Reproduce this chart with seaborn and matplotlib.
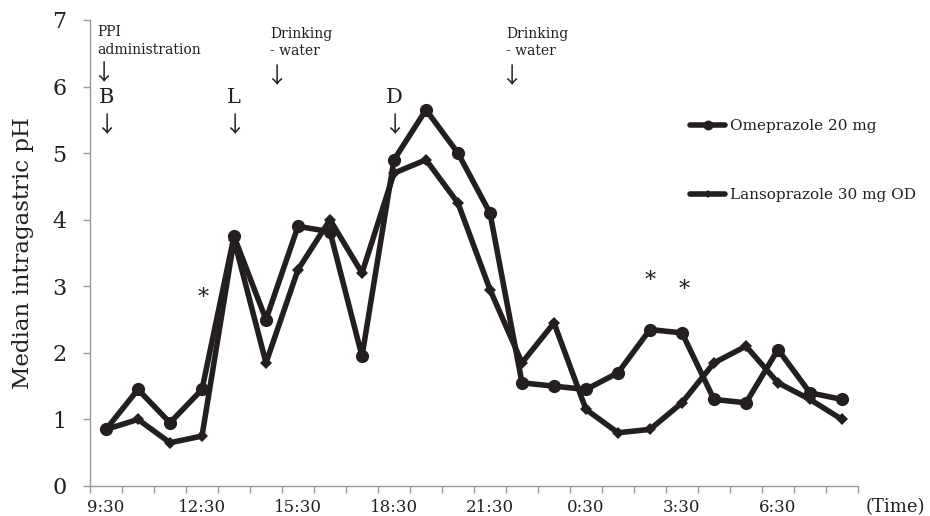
import matplotlib
matplotlib.use("Agg")
import matplotlib.pyplot as plt
import seaborn as sns
import pandas as pd
import numpy as np

times = ["9:30", "10:30", "11:30", "12:30", "13:30", "14:30", "15:30", "16:30",
         "17:30", "18:30", "19:30", "20:30", "21:30", "22:30", "23:30", "0:30",
         "1:30", "2:30", "3:30", "4:30", "5:30", "6:30", "7:30", "8:30"]
omeprazole = [0.85, 1.45, 0.95, 1.45, 3.75, 2.5, 3.9, 3.82, 1.95, 4.9, 5.65, 5.0,
              4.1, 1.55, 1.5, 1.45, 1.7, 2.35, 2.3, 1.3, 1.25, 2.05, 1.4, 1.3]
lansoprazole = [0.85, 1.0, 0.65, 0.75, 3.7, 1.85, 3.25, 4.0, 3.2, 4.7, 4.9, 4.25,
                2.95, 1.85, 2.45, 1.15, 0.8, 0.85, 1.25, 1.85, 2.1, 1.55, 1.3, 1.0]
tick_labels = ["9:30", "12:30", "15:30", "18:30", "21:30", "0:30", "3:30", "6:30"]
series_names = ["Omeprazole 20 mg", "Lansoprazole 30 mg OD"]
star_pos = [(3.03, 2.82), (17.0, 3.08), (18.06, 2.95)]
meal_labels = [(0, "B"), (4, "L"), (9, "D")]

INK = "#231f20"
sns.set_theme(style="white")
plt.rcParams["font.family"] = ["DejaVu Serif", "DejaVu Sans"]
plt.rcParams["text.color"] = INK
plt.rcParams["xtick.labelcolor"] = INK
plt.rcParams["ytick.labelcolor"] = INK
plt.rcParams["axes.labelcolor"] = INK

fig = plt.figure(figsize=(9.3, 5.16), dpi=100)
ax = fig.add_axes([90 / 930, 30 / 516, 768 / 930, 466 / 516])

idx = np.arange(len(times))
df = pd.DataFrame({"t": np.concatenate([idx, idx]),
                   "pH": omeprazole + lansoprazole,
                   "drug": [series_names[0]] * len(idx) + [series_names[1]] * len(idx)})

sns.lineplot(data=df[df.drug == series_names[0]], x="t", y="pH", ax=ax,
             color=INK, lw=4.0, marker="o", markersize=9.5,
             markeredgewidth=0, label=series_names[0])
sns.lineplot(data=df[df.drug == series_names[1]], x="t", y="pH", ax=ax,
             color=INK, lw=4.0, marker="D", markersize=6,
             markeredgewidth=0, label=series_names[1])

ax.set_xlim(-0.5, 23.5)
ax.set_ylim(0, 7)
ax.set_yticks(range(0, 8))
ax.set_xticks(idx[::3])
ax.set_xticklabels(tick_labels, fontsize=12)
ax.set_xticks(np.arange(-0.5, 24, 1), minor=True)
ax.tick_params(axis="x", which="major", length=0, pad=9)
ax.tick_params(axis="x", which="minor", length=5, color="#999999", width=1, direction="out", bottom=True)
ax.tick_params(axis="y", length=5, color="#999999", width=1, direction="out", left=True, labelsize=16, pad=12)
for s in ["top", "right"]:
    ax.spines[s].set_visible(False)
for s in ["left", "bottom"]:
    ax.spines[s].set_color("#999999")
    ax.spines[s].set_linewidth(1)
ax.set_xlabel("")
ax.set_ylabel("Median intragastric pH", fontsize=16.5, labelpad=13)

arrow_kw = dict(ha="center", va="center", fontsize=16, family=["Noto Sans CJK JP", "DejaVu Sans"])
for x, y in star_pos:
    ax.text(x, y, "*", ha="center", va="center", fontsize=16)
for x, t in meal_labels:
    ax.text(x, 5.75, t, ha="center", va="baseline", fontsize=15)
    ax.text(x, 5.42, "↓", **arrow_kw)

ax.text(-0.28, 6.45, "PPI\nadministration", ha="left", va="bottom", fontsize=10, linespacing=1.3)
ax.text(-0.08, 6.2, "↓", **arrow_kw)
ax.text(5.12, 6.43, "Drinking\n- water", ha="left", va="bottom", fontsize=10, linespacing=1.3)
ax.text(5.31, 6.15, "↓", **arrow_kw)
ax.text(12.5, 6.43, "Drinking\n- water", ha="left", va="bottom", fontsize=10, linespacing=1.3)
ax.text(12.66, 6.15, "↓", **arrow_kw)

fig.text(866 / 930, 1 - 507 / 516, "(Time)", ha="left", va="center", fontsize=13)

leg = ax.legend(loc="upper left", bbox_to_anchor=(690 / 930, 1 - 119 / 516),
                bbox_transform=fig.transFigure, frameon=False, fontsize=11,
                labelspacing=3.6, handlelength=2.3, handletextpad=0.3,
                borderpad=0, borderaxespad=0, markerscale=0.75)

fig.savefig("out.png", dpi=100)
